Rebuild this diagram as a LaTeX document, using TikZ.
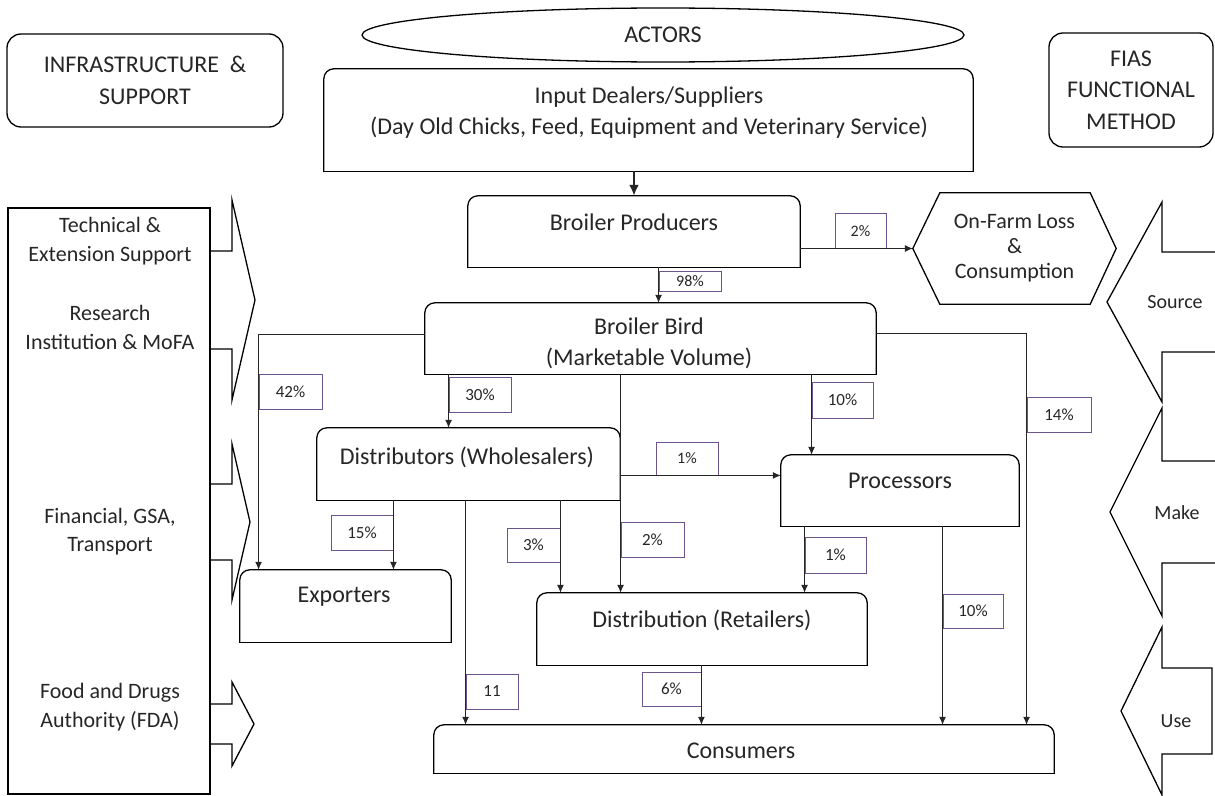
\documentclass[tikz,border=0pt]{standalone}
\usepackage{fontspec}
\setmainfont{Carlito}
\usepackage{tikz}
\usetikzlibrary{arrows.meta,shapes.geometric}

\definecolor{ink}{RGB}{38,38,38}
\definecolor{pctline}{RGB}{110,84,140}

\tikzset{
  frame/.style={draw, line width=1.3pt, rounded corners=14pt, inner sep=0pt},
  actor/.style={inner sep=0pt},
  lbl/.style={font=\fontsize{24}{31.5}\selectfont, align=center, text=ink},
  side/.style={font=\fontsize{22}{28.5}\selectfont, align=center, text=ink},
  fias/.style={font=\fontsize{20}{24}\selectfont, text=ink},
  pct/.style={draw=pctline, line width=0.9pt, inner sep=0pt, text=ink, font=\fontsize{17}{20}\selectfont},
  pcts/.style={pct, font=\fontsize{16}{19}\selectfont},
  flow/.style={->, line width=1pt, draw=ink},
}

\begin{document}
\begin{tikzpicture}[x=1pt, y=-1pt, >={Latex[length=8pt,width=7pt]}, line join=miter]
\useasboundingbox (0,0) rectangle (1215,795);

% headings
\node[frame, lbl, minimum width=276pt, minimum height=93pt] (infra) at (145,80.5) {INFRASTRUCTURE \ \&\\SUPPORT};
\node[ellipse, draw, line width=1.3pt, inner sep=0pt, lbl, minimum width=602pt, minimum height=54pt] (actors) at (663,35) {ACTORS};
\node[frame, lbl, minimum width=164pt, minimum height=114pt] (fiasbox) at (1131,90) {FIAS\\FUNCTIONAL\\METHOD};

% actors
\node[actor, minimum width=649pt, minimum height=102pt] (input) at (648.5,120) {};
\node[actor, minimum width=332pt, minimum height=71pt] (prod) at (634,231.5) {};
\node[actor, minimum width=451pt, minimum height=71pt] (bird) at (650.5,338.5) {};
\node[actor, minimum width=303pt, minimum height=72pt] (whole) at (468.5,464) {};
\node[actor, minimum width=238pt, minimum height=71pt] (proc) at (900,490.5) {};
\node[actor, minimum width=211pt, minimum height=72pt] (expo) at (345.5,606) {};
\node[actor, minimum width=330pt, minimum height=72pt] (retail) at (702,629) {};
\node[actor, minimum width=620pt, minimum height=48pt] (cons) at (744,749) {};

\foreach \n in {input,prod,bird,whole,proc,expo,retail,cons}{
  \draw[line width=1.3pt, line cap=rect, rounded corners=10pt] (\n.south west) -- (\n.north west) -- (\n.north east) -- (\n.south east);
  \draw[line width=1.3pt, line cap=rect] (\n.south west) -- (\n.south east);
}

\node[lbl] (tinput) at (649,112.5) {Input Dealers/Suppliers\\(Day Old Chicks, Feed, Equipment and Veterinary Service)};
\node[lbl] (tprod) at (634,222) {Broiler Producers};
\node[lbl] (tbird) at (649,343.5) {Broiler Bird\\(Marketable Volume)};
\node[lbl] (twhole) at (467,457) {Distributors (Wholesalers)};
\node[lbl] (tproc) at (900,481) {Processors};
\node[lbl] (texpo) at (344,597) {Exporters};
\node[lbl] (tretail) at (702,620) {Distribution (Retailers)};
\node[lbl] (tcons) at (741,751) {Consumers};

% loss hexagon
\node[inner sep=0pt, minimum width=203pt, minimum height=111pt, side, font=\fontsize{22}{25}\selectfont] (farm) at (1014.5,248.5) {On-Farm Loss\\\&\\Consumption};
\draw[line width=1.3pt] (farm.west) -- ([xshift=27pt]farm.north west) -- ([xshift=-26pt]farm.north east) -- (farm.east)
  -- ([xshift=-26pt]farm.south east) -- ([xshift=27pt]farm.south west) -- cycle;

% shares
\node[pcts, minimum width=62pt, minimum height=20pt] (p98) at (690,281) {98\%};
\node[pcts, minimum width=51pt, minimum height=35pt] (p2a) at (860.5,231) {2\%};
\node[pct, minimum width=63pt, minimum height=35pt] (p42) at (290.5,391.5) {42\%};
\node[pct, minimum width=62pt, minimum height=35pt] (p30) at (480,394.5) {30\%};
\node[pct, minimum width=61pt, minimum height=36pt] (p10a) at (842.5,400) {10\%};
\node[pct, minimum width=64pt, minimum height=35pt] (p14) at (1059,414.5) {14\%};
\node[pcts, minimum width=62pt, minimum height=33pt] (p1a) at (687,458.5) {1\%};
\node[pct, minimum width=62pt, minimum height=35pt] (p15) at (362,532.5) {15\%};
\node[pct, minimum width=53pt, minimum height=34pt] (p3) at (533.5,545) {3\%};
\node[pct, minimum width=63pt, minimum height=35pt] (p2b) at (652.5,539.5) {2\%};
\node[pct, minimum width=61pt, minimum height=36pt] (p1b) at (835.5,555) {1\%};
\node[pct, minimum width=60pt, minimum height=34pt] (p10b) at (973,611) {10\%};
\node[pct, minimum width=52pt, minimum height=35pt] (p11) at (492,691.5) {11};
\node[pct, minimum width=59pt, minimum height=34pt] (p6) at (671.5,689) {6\%};

% flows
\draw[line width=2.6pt, draw=ink, -{Latex[length=11pt,width=10pt]}] (input.south -| prod.north) -- (prod.north);
\draw[flow] (prod.south -| p98.west) -- (bird.north -| p98.west);
\draw[flow] (prod.east |- farm.west) -- (farm.west);
\draw[flow] ([yshift=4pt]bird.west) -| (expo.north -| p42.west);
\draw[flow] (bird.south -| p30.west) -- (whole.north -| p30.west);
\draw[flow] (bird.south -| p2b.west) -- (retail.north -| p2b.west);
\draw[flow] (bird.south -| p10a.west) -- (proc.north -| p10a.west);
\draw[flow] ([yshift=5pt]bird.east) -| (cons.north -| p14.west);
\draw[flow] (whole.east |- p1a.south) -- (proc.west |- p1a.south);
\draw[flow] (whole.south -| p15.east) -- (expo.north -| p15.east);
\draw[flow] (whole.south -| p3.east) -- (retail.north -| p3.east);
\draw[flow] (whole.south -| p11.west) -- (cons.north -| p11.west);
\draw[flow] (proc.south -| p1b.west) -- (retail.north -| p1b.west);
\draw[flow] (proc.south -| p10b.west) -- (cons.north -| p10b.west);
\draw[flow] (retail.south -| p6.east) -- (cons.north -| p6.east);

% support side
\node[draw, line width=1.3pt, inner sep=0pt, minimum width=202pt, minimum height=586pt] (sup) at (109,501) {};
\node[side] (tech) at (110,241) {Technical \&\\Extension Support};
\node[side] (res) at (110,327.5) {Research\\Institution \& MoFA};
\node[side] (fin) at (110,531.5) {Financial, GSA,\\Transport};
\node[side] (fda) at (110,707) {Food and Drugs\\Authority (FDA)};

\foreach \cy/\sh/\hh/\tx in {300/49/100/255, 522/38/78/250, 724/20/42/254}
  \draw[line width=1.3pt] (210,\cy-\sh) -- (232,\cy-\sh) -- (232,\cy-\hh) -- (\tx,\cy)
    -- (232,\cy+\hh) -- (232,\cy+\sh) -- (210,\cy+\sh);

% fias side
\foreach \cy/\sh/\hh/\tx/\rx in {302/50/100/1107/1217, 512/51/104/1110/1217, 711/43/84/1121/1212}
  \draw[line width=1.3pt] (\rx,\cy-\sh) -- (1162,\cy-\sh) -- (1162,\cy-\hh) -- (\tx,\cy)
    -- (1162,\cy+\hh) -- (1162,\cy+\sh) -- (\rx,\cy+\sh) -- cycle;
\node[fias] (src) at (1175,302) {Source};
\node[fias] (make) at (1177,513) {Make};
\node[fias] (use) at (1176,721) {Use};
\end{tikzpicture}
\end{document}
